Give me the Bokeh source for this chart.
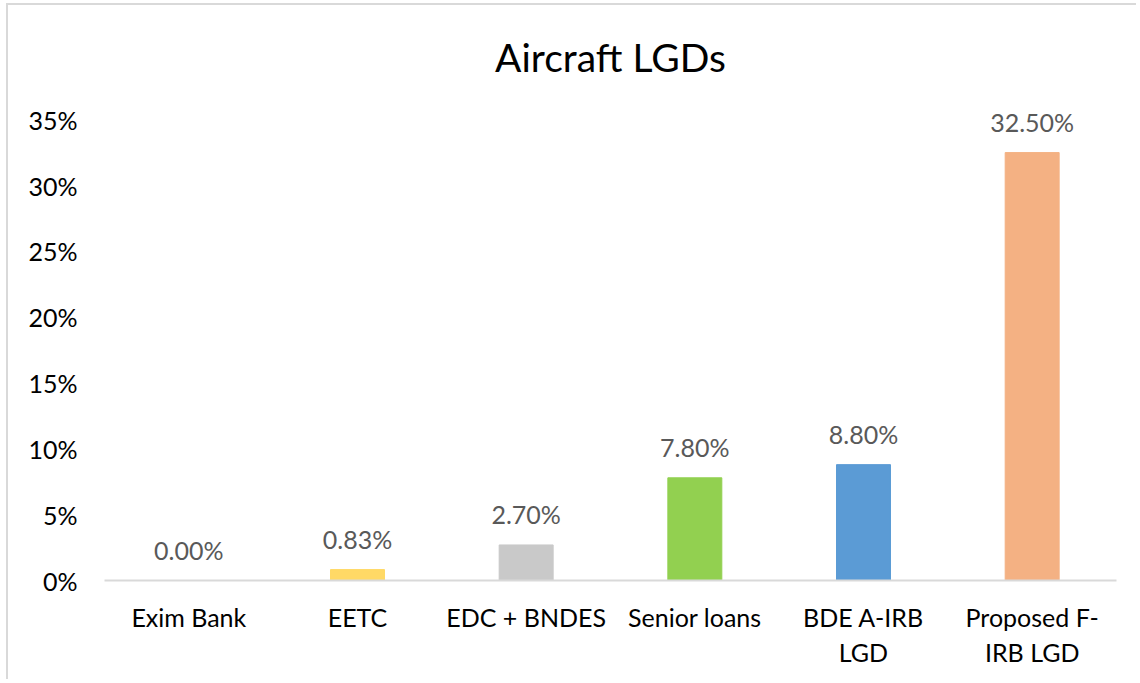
from bokeh.plotting import figure
from bokeh.models import ColumnDataSource, LabelSet, Range1d, FixedTicker, PrintfTickFormatter
from bokeh.core.properties import value
from bokeh.embed import file_html
from bokeh.resources import INLINE

categories = ["Exim Bank", "EETC", "EDC + BNDES", "Senior loans", "BDE A-IRB\nLGD", "Proposed F-\nIRB LGD"]
values = [0.00, 0.83, 2.70, 7.80, 8.80, 32.50]
colors = ["#A9D18E", "#FFD966", "#C9C9C9", "#92D050", "#5B9BD5", "#F4B183"]
y_ticks = [0, 5, 10, 15, 20, 25, 30, 35]

FONT = "Lato"

src = ColumnDataSource(dict(
    cat=categories, val=values, color=colors,
    lab=[f"{v:.2f}%" for v in values],
))

p = figure(x_range=categories, y_range=Range1d(0, 36.0), width=1130, height=676,
           output_backend="svg", toolbar_location=None,
           min_border_left=96, min_border_right=22, min_border_bottom=101, min_border_top=0)
p.styles = {"margin-left": "6px", "margin-top": "3px",
            "border-left": "2px solid #d9d9d9", "border-top": "2px solid #d9d9d9"}

p.title.text = "Aircraft LGDs"
p.title.align = "center"
p.title.text_font = FONT
p.title.text_font_size = "39px"
p.title.text_font_style = "normal"
p.title.text_color = "#000000"
p.title.standoff = 53
p.title.offset = 0

p.vbar(x="cat", top="val", width=0.32, color="color", source=src)

labels = LabelSet(x="cat", y="val", text="lab", source=src, text_align="center",
                  text_baseline="bottom", y_offset=16, text_font=value(FONT),
                  text_font_size=value("25px"), text_color="#595959")
p.add_layout(labels)

p.xgrid.grid_line_color = None
p.ygrid.grid_line_color = None
p.outline_line_color = None
p.background_fill_color = "white"
p.border_fill_color = "white"

p.yaxis.ticker = FixedTicker(ticks=y_ticks)
p.yaxis.formatter = PrintfTickFormatter(format="%d%%")
p.yaxis.axis_line_color = None
p.yaxis.major_tick_line_color = None
p.yaxis.minor_tick_line_color = None
p.yaxis.major_label_text_font = FONT
p.yaxis.major_label_text_font_size = "25px"
p.yaxis.major_label_text_color = "#000000"
p.yaxis.major_label_standoff = 21

p.xaxis.axis_line_color = "#d9d9d9"
p.xaxis.axis_line_width = 2
p.xaxis.major_tick_line_color = None
p.xaxis.minor_tick_line_color = None
p.xaxis.major_label_text_font = FONT
p.xaxis.major_label_text_font_size = "25px"
p.xaxis.major_label_text_color = "#000000"
p.xaxis.major_label_standoff = 15
p.xaxis.major_label_text_line_height = 1.17
p.x_range.range_padding = 0

open("out.html", "w").write(file_html(p, INLINE))
